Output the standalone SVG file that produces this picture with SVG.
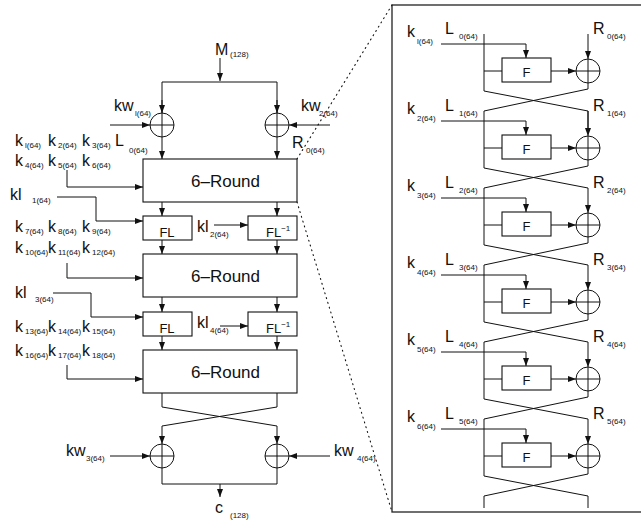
<svg xmlns="http://www.w3.org/2000/svg" width="641" height="521" viewBox="0 0 641 521">
<style>
text{font-family:"Liberation Sans",Arial,sans-serif;fill:#111}
.m{font-size:16px}
.s{font-size:8px}
.b{font-size:17px}
.f{font-size:13px}
.ln{fill:none;stroke:#111;stroke-width:1}
.bx{fill:#fff;stroke:#111;stroke-width:1.1}
.dot{fill:none;stroke:#111;stroke-width:1.1;stroke-dasharray:1 4;stroke-linecap:round}
</style>
<defs>
<marker id="ah" markerUnits="userSpaceOnUse" markerWidth="8" markerHeight="6" refX="8" refY="3" orient="auto"><path d="M0,0 L8,3 L0,6 z" fill="#111"/></marker>
<g id="xor"><circle r="12" fill="#fff" stroke="#111" stroke-width="1"/><path d="M-12,0H12M0,-12V12" stroke="#111" stroke-width="1"/></g>
</defs>
<rect width="641" height="521" fill="#fff"/>

<!-- connectors -->
<g id="connectors">
<path class="dot" d="M297,159 L392,5"/>
<path class="dot" d="M297,202 L392,512"/>
<path class="ln" d="M220,58V81" marker-end="url(#ah)"/>
<path class="ln" d="M162,113V82H277V113" />
<path class="ln" d="M162,100V113" marker-end="url(#ah)"/>
<path class="ln" d="M277,100V113" marker-end="url(#ah)"/>
<path class="ln" d="M110,125H150" marker-end="url(#ah)"/>
<path class="ln" d="M330,125H289" marker-end="url(#ah)"/>
<path class="ln" d="M162,137V159" marker-end="url(#ah)"/>
<path class="ln" d="M277,137V159" marker-end="url(#ah)"/>
<path class="ln" d="M67,170V187H143" marker-end="url(#ah)"/>
<path class="ln" d="M57,197H96V221H143" marker-end="url(#ah)"/>
<path class="ln" d="M162,202V216" marker-end="url(#ah)"/>
<path class="ln" d="M277,202V216" marker-end="url(#ah)"/>
<path class="ln" d="M214,225H248" marker-end="url(#ah)"/>
<path class="ln" d="M162,240V254" marker-end="url(#ah)"/>
<path class="ln" d="M277,240V254" marker-end="url(#ah)"/>
<path class="ln" d="M67,263V278H143" marker-end="url(#ah)"/>
<path class="ln" d="M53,293H91V317H143" marker-end="url(#ah)"/>
<path class="ln" d="M162,297V312" marker-end="url(#ah)"/>
<path class="ln" d="M277,297V312" marker-end="url(#ah)"/>
<path class="ln" d="M220,326H248" marker-end="url(#ah)"/>
<path class="ln" d="M162,336V350" marker-end="url(#ah)"/>
<path class="ln" d="M277,336V350" marker-end="url(#ah)"/>
<path class="ln" d="M67,365V379H143" marker-end="url(#ah)"/>
<path class="ln" d="M162,393V407L277,426V444" marker-end="url(#ah)"/>
<path class="ln" d="M277,393V407L162,426V444" marker-end="url(#ah)"/>
<path class="ln" d="M110,456H150" marker-end="url(#ah)"/>
<path class="ln" d="M330,456H289" marker-end="url(#ah)"/>
<path class="ln" d="M162,468V484H277V468"/>
<path class="ln" d="M220,484V497" marker-end="url(#ah)"/>
</g>

<!-- left nodes -->
<g id="xor1"><use href="#xor" x="162" y="125"/></g>
<g id="xor2"><use href="#xor" x="277" y="125"/></g>
<g id="xor3"><use href="#xor" x="162" y="456"/></g>
<g id="xor4"><use href="#xor" x="277" y="456"/></g>
<g id="round1"><rect class="bx" x="143" y="159" width="154" height="43"/><text class="b" x="225.5" y="187" text-anchor="middle">6–Round</text></g>
<g id="round2"><rect class="bx" x="143" y="254" width="154" height="43"/><text class="b" x="225.5" y="282" text-anchor="middle">6–Round</text></g>
<g id="round3"><rect class="bx" x="143" y="350" width="154" height="43"/><text class="b" x="225.5" y="378" text-anchor="middle">6–Round</text></g>
<g id="fl1"><rect class="bx" x="143" y="216" width="49" height="24"/><text class="f" x="167" y="236.5" text-anchor="middle">FL</text></g>
<g id="fli1"><rect class="bx" x="248" y="216" width="49" height="24"/><text class="f" x="266" y="236.5">FL<tspan class="s" dy="-6">−1</tspan></text></g>
<g id="fl2"><rect class="bx" x="143" y="312" width="49" height="24"/><text class="f" x="167" y="332.5" text-anchor="middle">FL</text></g>
<g id="fli2"><rect class="bx" x="248" y="312" width="49" height="24"/><text class="f" x="266" y="332.5">FL<tspan class="s" dy="-6">−1</tspan></text></g>

<!-- left labels -->
<g id="labels">
<text class="m" x="215" y="55">M</text><text class="s" x="230" y="57">(128)</text>
<text class="m" x="114" y="111">kw</text><text class="s" x="135" y="116">l(64)</text>
<text class="m" x="301" y="111">kw</text><text class="s" x="319" y="116">2(64)</text>
<text class="m" x="292" y="148">R</text><text class="s" x="306" y="153">0(64)</text>
<text class="m" x="115" y="146">L</text><text class="s" x="129" y="153">0(64)</text>
<text class="m" x="15" y="146">k</text><text class="s" x="25" y="148">l(64)</text>
<text class="m" x="48" y="146">k</text><text class="s" x="58" y="148">2(64)</text>
<text class="m" x="82" y="146">k</text><text class="s" x="92" y="148">3(64)</text>
<text class="m" x="15" y="166">k</text><text class="s" x="25" y="168">4(64)</text>
<text class="m" x="48" y="166">k</text><text class="s" x="58" y="168">5(64)</text>
<text class="m" x="82" y="166">k</text><text class="s" x="92" y="168">6(64)</text>
<text class="m" x="10" y="200">kl</text><text class="s" x="32" y="203">1(64)</text>
<text class="m" x="15" y="232">k</text><text class="s" x="25" y="234">7(64)</text>
<text class="m" x="48" y="232">k</text><text class="s" x="58" y="234">8(64)</text>
<text class="m" x="82" y="232">k</text><text class="s" x="92" y="234">9(64)</text>
<text class="m" x="15" y="253">k</text><text class="s" x="25" y="255">10(64)</text>
<text class="m" x="48" y="253">k</text><text class="s" x="58" y="255">11(64)</text>
<text class="m" x="82" y="253">k</text><text class="s" x="92" y="255">12(64)</text>
<text class="m" x="197" y="232">kl</text><text class="s" x="210" y="237">2(64)</text>
<text class="m" x="15" y="298">kl</text><text class="s" x="35" y="302">3(64)</text>
<text class="m" x="15" y="332">k</text><text class="s" x="25" y="334">13(64)</text>
<text class="m" x="48" y="332">k</text><text class="s" x="58" y="334">14(64)</text>
<text class="m" x="82" y="332">k</text><text class="s" x="92" y="334">15(64)</text>
<text class="m" x="197" y="328">kl</text><text class="s" x="210" y="333">4(64)</text>
<text class="m" x="15" y="356">k</text><text class="s" x="25" y="358">16(64)</text>
<text class="m" x="48" y="356">k</text><text class="s" x="58" y="358">17(64)</text>
<text class="m" x="82" y="356">k</text><text class="s" x="92" y="358">18(64)</text>
<text class="m" x="66" y="456">kw</text><text class="s" x="86" y="461">3(64)</text>
<text class="m" x="334" y="456">kw</text><text class="s" x="357" y="461">4(64)</text>
<text class="m" x="215" y="513">c</text><text class="s" x="230" y="518">(128)</text>
</g>

<!-- right panel -->
<g id="panel">
<rect x="392" y="5" width="270" height="507" fill="none" stroke="#222" stroke-width="1.3"/>
</g>
<g id="panel-connectors">
<path class="ln" d="M484,34V91L588,111V132"/>
<path class="ln" d="M588,34V59" marker-end="url(#ah)"/>
<path class="ln" d="M588,83V89L484,111V168L588,188"/>
<path class="ln" d="M588,111V136" marker-end="url(#ah)"/>
<path class="ln" d="M588,160V166L484,188V245L588,265"/>
<path class="ln" d="M588,188V213" marker-end="url(#ah)"/>
<path class="ln" d="M588,237V243L484,265V322L588,342"/>
<path class="ln" d="M588,265V290" marker-end="url(#ah)"/>
<path class="ln" d="M588,314V320L484,342V399L588,419"/>
<path class="ln" d="M588,342V367" marker-end="url(#ah)"/>
<path class="ln" d="M588,391V397L484,419V476L588,496V508"/>
<path class="ln" d="M588,419V444" marker-end="url(#ah)"/>
<path class="ln" d="M588,468V474L484,496V508"/>
<path class="ln" d="M441,44H526V58" marker-end="url(#ah)"/><path class="ln" d="M484,71H502"/><path class="ln" d="M551,71H576" marker-end="url(#ah)"/>
<path class="ln" d="M441,121H526V135" marker-end="url(#ah)"/><path class="ln" d="M484,148H502"/><path class="ln" d="M551,148H576" marker-end="url(#ah)"/>
<path class="ln" d="M441,198H526V212" marker-end="url(#ah)"/><path class="ln" d="M484,225H502"/><path class="ln" d="M551,225H576" marker-end="url(#ah)"/>
<path class="ln" d="M441,275H526V289" marker-end="url(#ah)"/><path class="ln" d="M484,302H502"/><path class="ln" d="M551,302H576" marker-end="url(#ah)"/>
<path class="ln" d="M441,352H526V366" marker-end="url(#ah)"/><path class="ln" d="M484,379H502"/><path class="ln" d="M551,379H576" marker-end="url(#ah)"/>
<path class="ln" d="M441,429H526V443" marker-end="url(#ah)"/><path class="ln" d="M484,456H502"/><path class="ln" d="M551,456H576" marker-end="url(#ah)"/>
</g>
<g id="stage1"><rect class="bx" x="502" y="58" width="49" height="24"/><text class="f" x="526.5" y="77" text-anchor="middle">F</text><use href="#xor" x="588" y="71"/>
<text class="m" x="407" y="37">k</text><text class="s" x="417" y="44">l(64)</text><text class="m" x="445" y="34">L</text><text class="s" x="459" y="39">0(64)</text><text class="m" x="593" y="34">R</text><text class="s" x="607" y="39">0(64)</text></g>
<g id="stage2"><rect class="bx" x="502" y="135" width="49" height="24"/><text class="f" x="526.5" y="154" text-anchor="middle">F</text><use href="#xor" x="588" y="148"/>
<text class="m" x="407" y="114">k</text><text class="s" x="417" y="121">2(64)</text><text class="m" x="445" y="111">L</text><text class="s" x="459" y="116">1(64)</text><text class="m" x="593" y="111">R</text><text class="s" x="607" y="116">1(64)</text></g>
<g id="stage3"><rect class="bx" x="502" y="212" width="49" height="24"/><text class="f" x="526.5" y="231" text-anchor="middle">F</text><use href="#xor" x="588" y="225"/>
<text class="m" x="407" y="191">k</text><text class="s" x="417" y="198">3(64)</text><text class="m" x="445" y="188">L</text><text class="s" x="459" y="193">2(64)</text><text class="m" x="593" y="188">R</text><text class="s" x="607" y="193">2(64)</text></g>
<g id="stage4"><rect class="bx" x="502" y="289" width="49" height="24"/><text class="f" x="526.5" y="308" text-anchor="middle">F</text><use href="#xor" x="588" y="302"/>
<text class="m" x="407" y="268">k</text><text class="s" x="417" y="275">4(64)</text><text class="m" x="445" y="265">L</text><text class="s" x="459" y="270">3(64)</text><text class="m" x="593" y="265">R</text><text class="s" x="607" y="270">3(64)</text></g>
<g id="stage5"><rect class="bx" x="502" y="366" width="49" height="24"/><text class="f" x="526.5" y="385" text-anchor="middle">F</text><use href="#xor" x="588" y="379"/>
<text class="m" x="407" y="345">k</text><text class="s" x="417" y="352">5(64)</text><text class="m" x="445" y="342">L</text><text class="s" x="459" y="347">4(64)</text><text class="m" x="593" y="342">R</text><text class="s" x="607" y="347">4(64)</text></g>
<g id="stage6"><rect class="bx" x="502" y="443" width="49" height="24"/><text class="f" x="526.5" y="462" text-anchor="middle">F</text><use href="#xor" x="588" y="456"/>
<text class="m" x="407" y="422">k</text><text class="s" x="417" y="429">6(64)</text><text class="m" x="445" y="419">L</text><text class="s" x="459" y="424">5(64)</text><text class="m" x="593" y="419">R</text><text class="s" x="607" y="424">5(64)</text></g>
</svg>
